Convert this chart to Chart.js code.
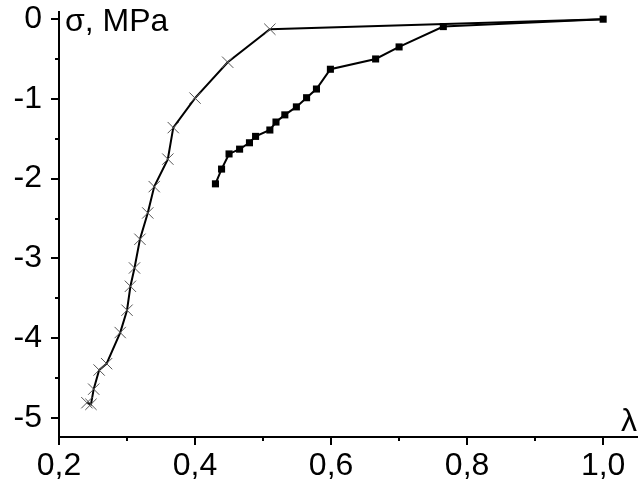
<!DOCTYPE html>
<html>
<head>
<meta charset="utf-8">
<script src="https://cdn.jsdelivr.net/npm/chart.js@4"></script>
<style>
  body { margin: 0; background: #fff; }
  #wrap { width: 638px; height: 488px; }
</style>
</head>
<body>
<div id="wrap"><canvas id="stressChart" width="638" height="488"></canvas></div>
<script>
// crosses (grey x markers)
const crossLambda = [0.241, 0.247, 0.251, 0.259, 0.270, 0.290, 0.300, 0.305, 0.311, 0.319, 0.3305, 0.340, 0.360, 0.368, 0.400, 0.448, 0.510, 1.0];
const crossSigma = [-4.81, -4.83, -4.64, -4.40, -4.32, -3.93, -3.65, -3.35, -3.12, -2.76, -2.43, -2.10, -1.755, -1.36, -0.99, -0.54, -0.126, 0.0];

// filled squares
const squareLambda = [0.430, 0.439, 0.450, 0.4655, 0.480, 0.489, 0.510, 0.519, 0.532, 0.549, 0.564, 0.5785, 0.599, 0.6655, 0.700, 0.765, 1.0];
const squareSigma = [-2.065, -1.88, -1.69, -1.63, -1.55, -1.47, -1.39, -1.29, -1.20, -1.10, -0.985, -0.876, -0.628, -0.499, -0.348, -0.093, 0.0];

// axis ticks
const xTicks = [0.2, 0.4, 0.6, 0.8, 1.0];
const xMinorTicks = [0.3, 0.5, 0.7, 0.9];
const yTicks = [0, -1, -2, -3, -4, -5];
const yMinorTicks = [-0.5, -1.5, -2.5, -3.5, -4.5];

const FONT = '"Liberation Sans", Arial, sans-serif';
const toPoints = (xs, ys) => xs.map((x, i) => ({ x: x, y: ys[i] }));

// outward tick marks + the two axis captions
const axisDecor = {
    id: 'axisDecor',
    afterDraw(chart) {
        const ctx = chart.ctx;
        const xs = chart.scales.x;
        const ys = chart.scales.y;
        const area = chart.chartArea;
        ctx.save();
        ctx.strokeStyle = '#000';
        ctx.lineWidth = 2;
        ctx.beginPath();
        // x axis runs on to the right edge
        ctx.moveTo(area.right, area.bottom);
        ctx.lineTo(chart.width, area.bottom);
        xTicks.concat(xMinorTicks).forEach(v => {
            const px = Math.round(xs.getPixelForValue(v));
            const len = xTicks.includes(v) ? 8 : 4;
            ctx.moveTo(px, area.bottom);
            ctx.lineTo(px, area.bottom + len);
        });
        yTicks.concat(yMinorTicks).forEach(v => {
            const py = Math.round(ys.getPixelForValue(v));
            const len = yTicks.includes(v) ? 8 : 4;
            ctx.moveTo(area.left, py);
            ctx.lineTo(area.left - len, py);
        });
        ctx.stroke();

        ctx.fillStyle = '#000';
        ctx.textBaseline = 'alphabetic';
        ctx.textAlign = 'left';
        ctx.font = '32px ' + FONT;
        ctx.fillText('σ, MPa', area.left + 6, 31);
        ctx.fillText('λ', chart.width - 17, area.bottom - 6);
        ctx.restore();
    }
};

const ctx = document.getElementById('stressChart').getContext('2d');
new Chart(ctx, {
    type: 'scatter',
    data: {
        datasets: [
            {
                label: 'squares',
                data: toPoints(squareLambda, squareSigma),
                showLine: true,
                borderColor: '#000',
                borderWidth: 2,
                pointStyle: 'rect',
                pointRadius: 5,
                pointBackgroundColor: '#000',
                pointBorderColor: '#000',
                pointBorderWidth: 0,
                order: 1
            },
            {
                label: 'crosses',
                data: toPoints(crossLambda, crossSigma),
                showLine: true,
                borderColor: '#000',
                borderWidth: 2,
                pointStyle: 'crossRot',
                pointRadius: c => c.dataIndex === crossLambda.length - 1 ? 0 : 8,
                pointBorderColor: '#555',
                pointBorderWidth: 1,
                order: 2
            }
        ]
    },
    options: {
        responsive: false,
        devicePixelRatio: 1,
        animation: false,
        layout: { padding: { top: 12, right: 0, left: 0, bottom: 0 } },
        plugins: {
            legend: { display: false },
            tooltip: { enabled: false }
        },
        scales: {
            x: {
                type: 'linear',
                min: 0.2,
                max: 1.038,
                afterBuildTicks: s => { s.ticks = xTicks.map(v => ({ value: v })); },
                afterFit: s => { s.height = 51; s.paddingLeft = 0; s.paddingRight = 0; },
                grid: { display: false, drawTicks: false, tickLength: 0 },
                border: { display: true, color: '#000', width: 2 },
                ticks: {
                    color: '#000',
                    padding: 10,
                    maxRotation: 0,
                    font: { family: FONT, size: 32 },
                    callback: v => v.toFixed(1).replace('.', ',')
                }
            },
            y: {
                type: 'linear',
                min: -5.24,
                max: 0.09,
                afterBuildTicks: s => { s.ticks = yTicks.map(v => ({ value: v })); },
                afterFit: s => { s.width = 59; s.paddingTop = 0; s.paddingBottom = 0; },
                grid: { display: false, drawTicks: false, tickLength: 0 },
                border: { display: true, color: '#000', width: 2 },
                ticks: {
                    color: '#000',
                    padding: 17,
                    font: { family: FONT, size: 32 },
                    callback: v => String(v)
                }
            }
        }
    },
    plugins: [axisDecor]
});
</script>
</body>
</html>
